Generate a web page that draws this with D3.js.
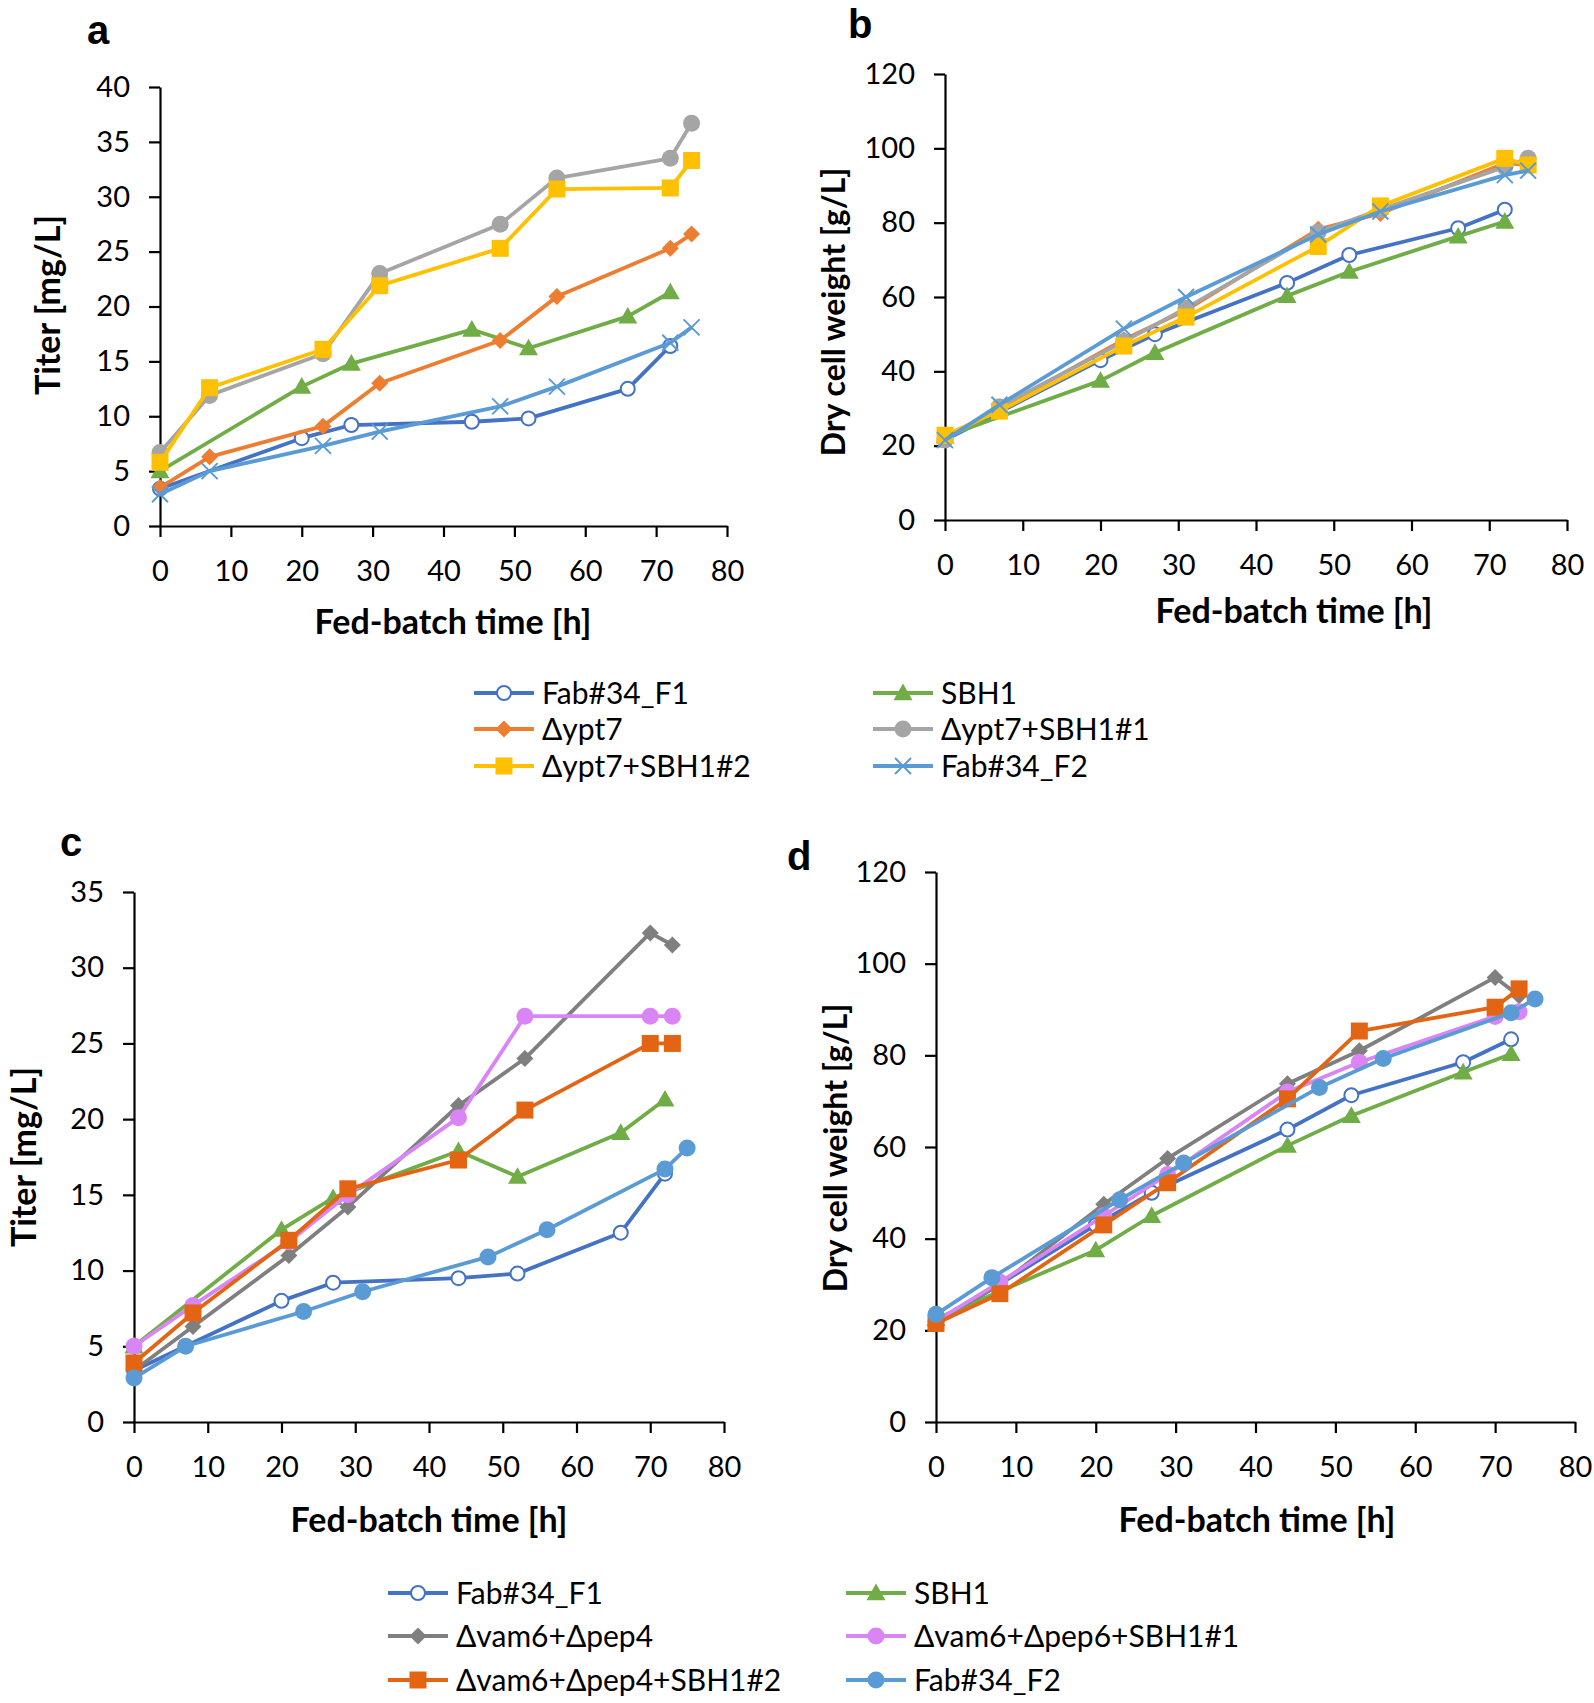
<!DOCTYPE html>
<html><head><meta charset="utf-8">
<script src="https://cdn.jsdelivr.net/npm/d3@7"></script>
<style>body{margin:0;background:#fff} svg{display:block}</style>
</head><body>
<script>
// ---------------- DATA ----------------
const xTicks = [0,10,20,30,40,50,60,70,80];
const yTicksTiterA = [0,5,10,15,20,25,30,35,40];
const yTicksTiterC = [0,5,10,15,20,25,30,35];
const yTicksDcw = [0,20,40,60,80,100,120];

// shared strains
const tF1 = [0,20,27,44,52,66,72];
const titerF1 = [3.4,8.0,9.2,9.5,9.8,12.5,16.4];
const dcwF1 = [21.5,43,50,63.8,71.3,78.5,83.5];

const tSBH1 = [0,20,27,44,52,66,72];
const titerSBH1 = [5.0,12.7,14.8,17.9,16.2,19.1,21.3];
const dcwSBH1 = [22.5,37.5,45.0,60.3,66.8,76.3,80.3];

const tF2 = [0,7,23,31,48,56,72,75];
const titerF2 = [2.9,5.0,7.3,8.6,10.9,12.7,16.7,18.1];
const dcwF2top = [21.5,31,51.5,60,76.8,83,92.8,94];
const dcwF2bottom = [23.5,31.5,48.5,56.5,73,79.3,89.3,92.3];

// top group (a, b)
const tYpt7 = [0,7,23,31,48,56,72,75];
const titerYpt7 = [3.5,6.3,9.1,13.0,16.9,20.9,25.3,26.6];
const dcwYpt7 = [22,30,48.5,56.5,78.2,82.5,96,95.5];
const titerYpt7S1 = [6.7,11.9,15.7,23.0,27.5,31.7,33.5,36.7];
const dcwYpt7S1 = [21.5,30.5,48,57,77.5,83.5,95,97.3];
const titerYpt7S2 = [5.8,12.6,16.1,21.9,25.3,30.7,30.8,33.3];
const dcwYpt7S2 = [22.8,29.3,46.8,54.6,73.6,84.5,97.3,95.5];

// bottom group (c, d)
const tVam = [0,8,21,29,44,53,70,73];
const titerVamPep4 = [3.4,6.3,11.0,14.2,20.9,24.0,32.3,31.5];
const dcwVamPep4 = [22,30,47.5,57.5,73.8,81,97,93];
const titerVamPep6S1 = [5.0,7.7,11.9,15.0,20.1,26.8,26.8,26.8];
const dcwVamPep6S1 = [22,30.5,45,54,72,78.5,88.5,89.5];
const titerVamPep4S2 = [3.9,7.2,12.0,15.4,17.3,20.6,25.0,25.0];
const dcwVamPep4S2 = [21.5,28,43,52.2,70.5,85.3,90.5,94.5];

const namesTop = ["Fab#34_F1","SBH1","Δypt7","Δypt7+SBH1#1","Δypt7+SBH1#2","Fab#34_F2"];
const namesBottom = ["Fab#34_F1","SBH1","Δvam6+Δpep4","Δvam6+Δpep6+SBH1#1","Δvam6+Δpep4+SBH1#2","Fab#34_F2"];

// ---------------- STYLE ----------------
const FONT = "Lato, 'Open Sans', sans-serif";
const C = {blue:"#4472C4", green:"#70AD47", orange:"#ED7D31", lgray:"#A5A5A5", yellow:"#FFC000",
           lblue:"#5B9BD5", dgray:"#7F7F7F", violet:"#D985F6", dorange:"#E36514"};

const seriesTop = [
  {name:namesTop[0], color:C.blue, shape:"ocircle", x:tF1, t:titerF1, d:dcwF1},
  {name:namesTop[1], color:C.green, shape:"triangle", x:tSBH1, t:titerSBH1, d:dcwSBH1},
  {name:namesTop[2], color:C.orange, shape:"diamond", x:tYpt7, t:titerYpt7, d:dcwYpt7},
  {name:namesTop[3], color:C.lgray, shape:"circle", x:tYpt7, t:titerYpt7S1, d:dcwYpt7S1},
  {name:namesTop[4], color:C.yellow, shape:"square", x:tYpt7, t:titerYpt7S2, d:dcwYpt7S2},
  {name:namesTop[5], color:C.lblue, shape:"x", x:tF2, t:titerF2, d:dcwF2top},
];
const seriesBottom = [
  {name:namesBottom[0], color:C.blue, shape:"ocircle", x:tF1, t:titerF1, d:dcwF1},
  {name:namesBottom[1], color:C.green, shape:"triangle", x:tSBH1, t:titerSBH1, d:dcwSBH1},
  {name:namesBottom[2], color:C.dgray, shape:"diamond", x:tVam, t:titerVamPep4, d:dcwVamPep4},
  {name:namesBottom[3], color:C.violet, shape:"circle", x:tVam, t:titerVamPep6S1, d:dcwVamPep6S1},
  {name:namesBottom[4], color:C.dorange, shape:"square", x:tVam, t:titerVamPep4S2, d:dcwVamPep4S2},
  {name:namesBottom[5], color:C.lblue, shape:"circle", x:tF2, t:titerF2, d:dcwF2bottom},
];

const svg = d3.select("body").append("svg").attr("width",1594).attr("height",1703)
  .style("font-family", FONT);

function drawMarker(g, shape, color, cx, cy) {
  if (shape === "ocircle") {
    g.append("circle").attr("cx",cx).attr("cy",cy).attr("r",7)
      .attr("fill","#fff").attr("stroke",color).attr("stroke-width",2);
  } else if (shape === "circle") {
    g.append("circle").attr("cx",cx).attr("cy",cy).attr("r",8.5).attr("fill",color);
  } else if (shape === "square") {
    g.append("rect").attr("x",cx-8.5).attr("y",cy-8.5).attr("width",17).attr("height",17).attr("fill",color);
  } else if (shape === "diamond") {
    const s = 8.5;
    g.append("path").attr("d",`M${cx},${cy-s}L${cx+s},${cy}L${cx},${cy+s}L${cx-s},${cy}Z`).attr("fill",color);
  } else if (shape === "triangle") {
    const s = 9.5;
    g.append("path").attr("d",`M${cx},${cy-s}L${cx+s},${cy+s*0.75}L${cx-s},${cy+s*0.75}Z`).attr("fill",color);
  } else if (shape === "x") {
    const s = 8;
    g.append("path").attr("d",`M${cx-s},${cy-s}L${cx+s},${cy+s}M${cx-s},${cy+s}L${cx+s},${cy-s}`)
      .attr("stroke",color).attr("stroke-width",2).attr("fill","none");
  }
}

function drawPanel(o) {
  const x = d3.scaleLinear().domain([0,80]).range([o.left,o.right]);
  const y = d3.scaleLinear().domain([0,o.ymax]).range([o.bottom,o.top]);
  const g = svg.append("g");

  const yAxis = d3.axisLeft(y).tickValues(o.yticks).tickSize(11).tickSizeOuter(0).tickPadding(19);
  const xAxis = d3.axisBottom(x).tickValues(xTicks).tickSize(11).tickSizeOuter(0).tickPadding(23);
  const gy = g.append("g").attr("transform",`translate(${o.left},0)`).call(yAxis);
  const gx = g.append("g").attr("transform",`translate(0,${o.bottom})`).call(xAxis);
  [gx,gy].forEach(a=>{
    a.select(".domain").attr("stroke","#000").attr("stroke-width",2.2);
    a.selectAll(".tick line").attr("stroke","#000").attr("stroke-width",2.2);
    a.selectAll(".tick text").attr("fill","#000").style("font-size","29px").style("font-family",FONT);
  });

  const line = d3.line().x(p=>x(p[0])).y(p=>y(p[1]));
  o.series.forEach(s=>{
    const pts = s.x.map((v,i)=>[v, s[o.key][i]]);
    const sg = g.append("g");
    sg.append("path").attr("d",line(pts)).attr("fill","none").attr("stroke",s.color)
      .attr("stroke-width",3.8).attr("stroke-linejoin","round");
    pts.forEach(p=>drawMarker(sg, s.shape, s.color, x(p[0]), y(p[1])));
  });

  g.append("text").attr("x",o.letterX).attr("y",o.letterY).text(o.letter)
    .style("font-family","'Liberation Sans', Arial, sans-serif").style("font-weight","bold").style("font-size","40px");
  g.append("text").attr("transform",`translate(${o.ytX},${o.ytY}) rotate(-90)`).attr("text-anchor","middle")
    .attr("dy","0.35em").text(o.ytitle).style("font-weight","bold").style("font-size",o.ytSize+"px");
  g.append("text").attr("x",o.xtX).attr("y",o.xtY).attr("text-anchor","middle").attr("dy","0.35em")
    .text("Fed-batch time [h]").style("font-weight","bold").style("font-size","34px");
}

function drawLegend(series, o) {
  const g = svg.append("g");
  series.forEach((s,i)=>{
    const col = i % 2, row = Math.floor(i/2);
    const lx = o.colX[col], ly = o.rowY[row];
    g.append("line").attr("x1",lx).attr("x2",lx+60).attr("y1",ly).attr("y2",ly)
      .attr("stroke",s.color).attr("stroke-width",3.8);
    drawMarker(g, s.shape, s.color, lx+30, ly);
    g.append("text").attr("x",lx+68).attr("y",ly).attr("dy","0.35em").text(s.name)
      .style("font-size","30px").attr("fill","#000");
  });
}

drawPanel({left:160,right:727,top:87,bottom:526,ymax:40,yticks:yTicksTiterA,key:"t",series:seriesTop,
  letter:"a",letterX:87,letterY:44,ytitle:"Titer [mg/L]",ytSize:34,ytX:48,ytY:305,xtX:453,xtY:622});
drawPanel({left:945,right:1567,top:74,bottom:520,ymax:120,yticks:yTicksDcw,key:"d",series:seriesTop,
  letter:"b",letterX:848,letterY:38,ytitle:"Dry cell weight [g/L]",ytSize:32,ytX:834,ytY:312,xtX:1294,xtY:611});
drawPanel({left:134,right:724,top:892,bottom:1422,ymax:35,yticks:yTicksTiterC,key:"t",series:seriesBottom,
  letter:"c",letterX:60,letterY:856,ytitle:"Titer [mg/L]",ytSize:34,ytX:24,ytY:1157,xtX:429,xtY:1520});
drawPanel({left:936,right:1575,top:872,bottom:1422,ymax:120,yticks:yTicksDcw,key:"d",series:seriesBottom,
  letter:"d",letterX:787,letterY:870,ytitle:"Dry cell weight [g/L]",ytSize:32,ytX:836,ytY:1148,xtX:1257,xtY:1520});

drawLegend(seriesTop, {colX:[474,873], rowY:[693,729,766]});
drawLegend(seriesBottom, {colX:[388,846], rowY:[1593,1636,1680]});
</script>
</body></html>
